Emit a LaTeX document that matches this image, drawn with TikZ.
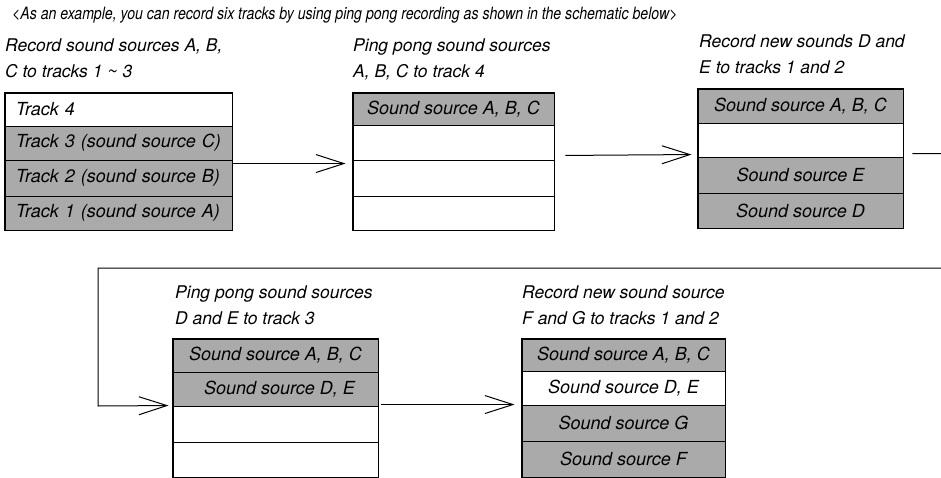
\documentclass[tikz,border=0pt]{standalone}
\usepackage{fontspec}
\setmainfont{TeX Gyre Heros}
\newfontfamily\narrowfont[FakeStretch=0.83]{TeX Gyre Heros}
\usetikzlibrary{arrows.meta}
\definecolor{dot}{RGB}{170,170,170}
\begin{document}
\begin{tikzpicture}[x=1pt,y=-1pt,
  row/.style={draw, line width=0.9pt, inner sep=0pt, font=\fontsize{18}{20}\selectfont\itshape},
  grayrow/.style={row, fill=dot},
  leftrow/.style={text width=205pt, align=left, inner xsep=11pt},
  outline/.style={line width=1.6pt},
  lab/.style={anchor=base west, inner sep=0pt, font=\fontsize{17.5}{20}\selectfont\itshape},
  conn/.style={line width=1pt},
  arr/.style={conn, -{Straight Barb[length=28pt,width=18pt,line width=1pt]}}
]
\useasboundingbox (0,0) rectangle (941,478);
\clip (0,0) rectangle (941,478);

% title
\node[lab, font=\narrowfont\fontsize{17}{19}\selectfont\itshape] (title) at (12,20) {<As an example, you can record six tracks by using ping pong recording as shown in the schematic below>};

% box 1
\node[lab] (l1a) at (5,52) {Record sound sources A, B,};
\node[lab] (l1b) at (5,78) {C to tracks 1 \textasciitilde\ 3};
\node[row, leftrow, minimum height=33pt] (b1r1) at (118.5,109.5) {Track 4};
\node[grayrow, leftrow, minimum height=34pt] (b1r2) at (118.5,143) {Track 3 (sound source C)};
\node[grayrow, leftrow, minimum height=36pt] (b1r3) at (118.5,178) {Track 2 (sound source B)};
\node[grayrow, leftrow, minimum height=34pt] (b1r4) at (118.5,213) {Track 1 (sound source A)};
\draw[outline] (b1r1.north west) rectangle (b1r4.south east);

% box 2
\node[lab] (l2a) at (353,52) {Ping pong sound sources};
\node[lab] (l2b) at (353,78) {A, B, C to track 4};
\node[grayrow, minimum width=201pt, minimum height=32pt] (b2r1) at (453.5,109) {Sound source A, B, C};
\node[row, minimum width=201pt, minimum height=35pt] (b2r2) at (453.5,142.5) {};
\node[row, minimum width=201pt, minimum height=36pt] (b2r3) at (453.5,178) {};
\node[row, minimum width=201pt, minimum height=34pt] (b2r4) at (453.5,213) {};
\draw[outline] (b2r1.north west) rectangle (b2r4.south east);

% box 3
\node[lab] (l3a) at (699,48) {Record new sounds D and};
\node[lab] (l3b) at (699,74) {E to tracks 1 and 2};
\node[grayrow, minimum width=205pt, minimum height=34pt] (b3r1) at (800.5,106) {Sound source A, B, C};
\node[row, minimum width=205pt, minimum height=34pt] (b3r2) at (800.5,140) {};
\node[grayrow, minimum width=205pt, minimum height=36pt] (b3r3) at (800.5,175) {Sound source E};
\node[grayrow, minimum width=205pt, minimum height=35pt] (b3r4) at (800.5,210.5) {Sound source D};
\draw[outline] (b3r1.north west) rectangle (b3r4.south east);

% box 4
\node[lab] (l4a) at (175,298) {Ping pong sound sources};
\node[lab] (l4b) at (175,324) {D and E to track 3};
\node[grayrow, minimum width=205pt, minimum height=33pt] (b4r1) at (275.5,355.5) {Sound source A, B, C};
\node[grayrow, minimum width=205pt, minimum height=34pt] (b4r2) at (275.5,389) {\hspace*{8pt}Sound source D, E};
\node[row, minimum width=205pt, minimum height=36pt] (b4r3) at (275.5,424) {};
\node[row, minimum width=205pt, minimum height=35pt] (b4r4) at (275.5,459.5) {};
\draw[outline] (b4r1.north west) rectangle (b4r4.south east);

% box 5
\node[lab] (l5a) at (522,298) {Record new sound source};
\node[lab] (l5b) at (522,324) {F and G to tracks 1 and 2};
\node[grayrow, minimum width=203pt, minimum height=32pt] (b5r1) at (623.5,355) {Sound source A, B, C};
\node[row, minimum width=203pt, minimum height=34pt] (b5r2) at (623.5,388) {Sound source D, E};
\node[grayrow, minimum width=203pt, minimum height=36pt] (b5r3) at (623.5,423) {Sound source G};
\node[grayrow, minimum width=203pt, minimum height=36pt] (b5r4) at (623.5,459) {Sound source F};
\draw[outline] (b5r1.north west) rectangle (b5r4.south east);

% connectors
\draw[arr] ([yshift=-4pt]b1r3.north east) -- ([xshift=-7pt,yshift=-4pt]b2r3.north west);
\draw[arr] ([xshift=11pt,yshift=5pt]b2r2.south east) -- ([xshift=-6pt,yshift=2pt]b3r3.north west);
\draw[arr] ([xshift=9pt,yshift=3pt]b3r3.north east) -- ++(50,0) |- (98,268) -- (98,406) -- ([xshift=-4pt]b4r3.north west);
\draw[arr] ([xshift=3pt,yshift=1pt]b4r3.north east) -- ([xshift=-7pt]b5r3.north west);
\end{tikzpicture}
\end{document}
